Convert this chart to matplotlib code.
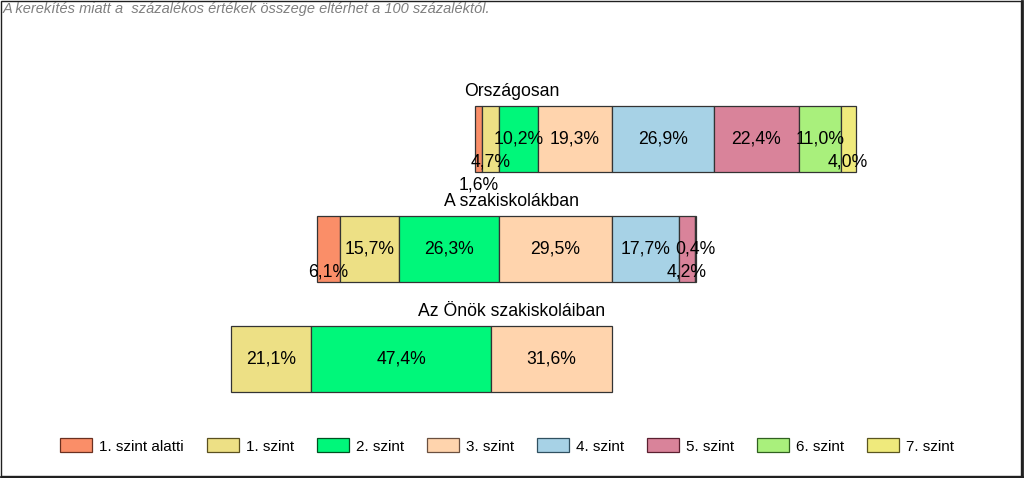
import matplotlib
matplotlib.use("Agg")
import matplotlib.pyplot as plt
from matplotlib.patches import Rectangle, Patch
from matplotlib.lines import Line2D

plt.rcParams['font.family'] = ['Liberation Sans', 'DejaVu Sans']

categories = ["Országosan", "A szakiskolákban", "Az Önök szakiskoláiban"]
levels = ["1. szint alatti", "1. szint", "2. szint", "3. szint",
          "4. szint", "5. szint", "6. szint", "7. szint"]
orszagosan = [1.6, 4.7, 10.2, 19.3, 26.9, 22.4, 11.0, 4.0]
szakiskolak = [6.1, 15.7, 26.3, 29.5, 17.7, 4.2, 0.4, 0.0]
onok = [0.0, 21.1, 47.4, 31.6, 0.0, 0.0, 0.0, 0.0]
series = [orszagosan, szakiskolak, onok]
note = "A kerekítés miatt a  százalékos értékek összege eltérhet a 100 százaléktól."

colors = ['#FA8E68', '#EDE085', '#00F77A', '#FFD4AD',
          '#A7D2E6', '#D9839A', '#A9F07C', '#EFEA7C']
edges = ['#6a3020', '#5a5020', '#005020', '#6a5040',
         '#305060', '#5a2030', '#306020', '#5a5520']
# label line offsets (in rows below bar centre) for crowded small segments
label_rows = {(0, 0): 2, (0, 1): 1, (0, 7): 1, (1, 0): 1, (1, 5): 1}

W, H = 1024, 478
fig = plt.figure(figsize=(W / 100, H / 100), dpi=100)
ax = fig.add_axes([0, 0, 1, 1])
px_per_pct = 3.8
origin_px = 611.5
ax.set_xlim(-origin_px / px_per_pct, (W - origin_px) / px_per_pct)
row_px = 110.0
first_px = 139.0
ax.set_ylim((H - first_px) / row_px, -first_px / row_px)
ax.axis('off')

bar_h = 0.6
line_step = 23.0 / row_px
for i, vals in enumerate(series):
    start = -sum(vals[:4])
    left = start
    for j, v in enumerate(vals):
        if v > 0:
            ax.barh(i, v, left=left, height=bar_h, color=colors[j],
                    edgecolor='#333333', linewidth=0.9)
            ax.text(left + v / 2, i + label_rows.get((i, j), 0) * line_step,
                    f"{v:.1f}%".replace('.', ','), ha='center', va='center',
                    fontsize=12.7, color='black')
        left += v
    ax.text(0.5, i - bar_h / 2 - 15.0 / row_px, categories[i],
            transform=ax.get_yaxis_transform(), ha='center', va='center',
            fontsize=12.7, color='black')

handles = [Patch(facecolor=c, edgecolor=e, linewidth=0.9) for c, e in zip(colors, edges)]
fig.legend(handles, levels, loc='center', bbox_to_anchor=(0.495, 1 - 446 / H),
           ncol=8, frameon=False, fontsize=11, handlelength=2.1, handleheight=1.0,
           handletextpad=0.45, columnspacing=1.5)

fig.text(3 / W, 1 - 9 / H, note, ha='left', va='center', fontsize=10.5,
         style='italic', color='#7f7f7f')

# figure border with shadow on right/bottom
fig.add_artist(Rectangle((0.5 / W, 2.5 / H), (W - 3.5) / W, (H - 3.5) / H,
                         transform=fig.transFigure, fill=False,
                         edgecolor='#202020', linewidth=1.0))
fig.add_artist(Line2D([(W - 2) / W, (W - 2) / W], [1 / H, 1 - 1 / H],
                      transform=fig.transFigure, color='#202020', linewidth=2))
fig.add_artist(Line2D([1 / W, (W - 1) / W], [1.5 / H, 1.5 / H],
                      transform=fig.transFigure, color='#202020', linewidth=2))

fig.savefig('out.png', dpi=100)
